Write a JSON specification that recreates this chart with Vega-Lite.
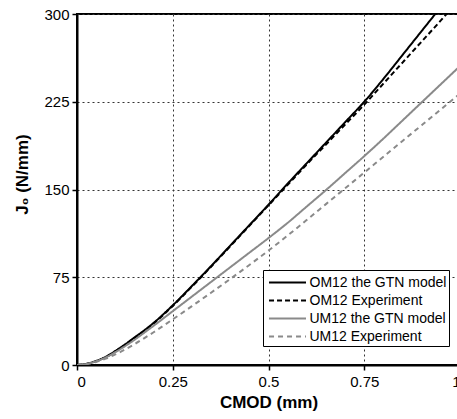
{
  "$schema": "https://vega.github.io/schema/vega-lite/v6.json",
  "width": 383,
  "height": 351,
  "autosize": {"type": "none"},
  "padding": {"left": 77, "top": 14, "right": 0, "bottom": 54},
  "background": "white",
  "config": {
    "font": "Liberation Sans",
    "view": {"stroke": "black", "strokeWidth": 2},
    "axis": {
      "domainColor": "black", "domainWidth": 2,
      "tickColor": "black", "tickWidth": 1.5, "tickSize": 5,
      "labelColor": "black", "labelFont": "Liberation Sans", "labelFontSize": 15,
      "titleColor": "black", "titleFont": "Liberation Sans", "titleFontSize": 17, "titleFontWeight": "bold",
      "gridColor": "#333", "gridDash": [2, 3], "gridWidth": 1, "gridOpacity": 1
    },
    "legend": {
      "orient": "none", "legendX": 186, "legendY": 256,
      "strokeColor": "black", "fillColor": "white", "padding": 2,
      "symbolType": "M-0.7,0H3.3", "symbolSize": 342, "symbolStrokeWidth": 2,
      "labelFontSize": 14, "labelFont": "Liberation Sans", "labelColor": "black",
      "labelOffset": 23.5, "rowPadding": 0, "labelLimit": 300
    }
  },
  "data": {"values": [
    {"series":"OM12 the GTN model","cmod":0,"j":0},
    {"series":"OM12 the GTN model","cmod":0.025,"j":1},
    {"series":"OM12 the GTN model","cmod":0.05,"j":3.5},
    {"series":"OM12 the GTN model","cmod":0.075,"j":7},
    {"series":"OM12 the GTN model","cmod":0.1,"j":12},
    {"series":"OM12 the GTN model","cmod":0.125,"j":17.5},
    {"series":"OM12 the GTN model","cmod":0.15,"j":23.5},
    {"series":"OM12 the GTN model","cmod":0.175,"j":29.5},
    {"series":"OM12 the GTN model","cmod":0.2,"j":36},
    {"series":"OM12 the GTN model","cmod":0.25,"j":51},
    {"series":"OM12 the GTN model","cmod":0.3,"j":67.5},
    {"series":"OM12 the GTN model","cmod":0.35,"j":84.5},
    {"series":"OM12 the GTN model","cmod":0.4,"j":102},
    {"series":"OM12 the GTN model","cmod":0.45,"j":119.5},
    {"series":"OM12 the GTN model","cmod":0.5,"j":137},
    {"series":"OM12 the GTN model","cmod":0.55,"j":155},
    {"series":"OM12 the GTN model","cmod":0.6,"j":172.5},
    {"series":"OM12 the GTN model","cmod":0.65,"j":190},
    {"series":"OM12 the GTN model","cmod":0.7,"j":207.5},
    {"series":"OM12 the GTN model","cmod":0.75,"j":225},
    {"series":"OM12 the GTN model","cmod":0.8,"j":244.5},
    {"series":"OM12 the GTN model","cmod":0.85,"j":265},
    {"series":"OM12 the GTN model","cmod":0.9,"j":285.5},
    {"series":"OM12 the GTN model","cmod":0.95,"j":306},
    {"series":"OM12 Experiment","cmod":0,"j":0},
    {"series":"OM12 Experiment","cmod":0.025,"j":0.9},
    {"series":"OM12 Experiment","cmod":0.05,"j":3.3},
    {"series":"OM12 Experiment","cmod":0.075,"j":6.7},
    {"series":"OM12 Experiment","cmod":0.1,"j":11.5},
    {"series":"OM12 Experiment","cmod":0.125,"j":17},
    {"series":"OM12 Experiment","cmod":0.15,"j":23},
    {"series":"OM12 Experiment","cmod":0.175,"j":29},
    {"series":"OM12 Experiment","cmod":0.2,"j":35.5},
    {"series":"OM12 Experiment","cmod":0.25,"j":50.5},
    {"series":"OM12 Experiment","cmod":0.3,"j":67},
    {"series":"OM12 Experiment","cmod":0.35,"j":84},
    {"series":"OM12 Experiment","cmod":0.4,"j":101.5},
    {"series":"OM12 Experiment","cmod":0.45,"j":119},
    {"series":"OM12 Experiment","cmod":0.5,"j":136.5},
    {"series":"OM12 Experiment","cmod":0.55,"j":154},
    {"series":"OM12 Experiment","cmod":0.6,"j":171.5},
    {"series":"OM12 Experiment","cmod":0.65,"j":188.5},
    {"series":"OM12 Experiment","cmod":0.7,"j":205.5},
    {"series":"OM12 Experiment","cmod":0.75,"j":222.5},
    {"series":"OM12 Experiment","cmod":0.8,"j":240.5},
    {"series":"OM12 Experiment","cmod":0.85,"j":258.5},
    {"series":"OM12 Experiment","cmod":0.9,"j":276.5},
    {"series":"OM12 Experiment","cmod":0.95,"j":294.5},
    {"series":"OM12 Experiment","cmod":1.0,"j":313},
    {"series":"UM12 the GTN model","cmod":0,"j":0},
    {"series":"UM12 the GTN model","cmod":0.025,"j":0.9},
    {"series":"UM12 the GTN model","cmod":0.05,"j":3.2},
    {"series":"UM12 the GTN model","cmod":0.075,"j":6.5},
    {"series":"UM12 the GTN model","cmod":0.1,"j":11},
    {"series":"UM12 the GTN model","cmod":0.125,"j":16},
    {"series":"UM12 the GTN model","cmod":0.15,"j":21.5},
    {"series":"UM12 the GTN model","cmod":0.175,"j":27.5},
    {"series":"UM12 the GTN model","cmod":0.2,"j":33.5},
    {"series":"UM12 the GTN model","cmod":0.25,"j":46},
    {"series":"UM12 the GTN model","cmod":0.3,"j":58.5},
    {"series":"UM12 the GTN model","cmod":0.35,"j":71},
    {"series":"UM12 the GTN model","cmod":0.4,"j":83.5},
    {"series":"UM12 the GTN model","cmod":0.45,"j":96},
    {"series":"UM12 the GTN model","cmod":0.5,"j":108.5},
    {"series":"UM12 the GTN model","cmod":0.55,"j":121.5},
    {"series":"UM12 the GTN model","cmod":0.6,"j":135.5},
    {"series":"UM12 the GTN model","cmod":0.65,"j":149.5},
    {"series":"UM12 the GTN model","cmod":0.7,"j":164},
    {"series":"UM12 the GTN model","cmod":0.75,"j":178.5},
    {"series":"UM12 the GTN model","cmod":0.8,"j":193.5},
    {"series":"UM12 the GTN model","cmod":0.85,"j":209},
    {"series":"UM12 the GTN model","cmod":0.9,"j":224.5},
    {"series":"UM12 the GTN model","cmod":0.95,"j":240},
    {"series":"UM12 the GTN model","cmod":1.0,"j":255.5},
    {"series":"UM12 Experiment","cmod":0,"j":0},
    {"series":"UM12 Experiment","cmod":0.025,"j":0.7},
    {"series":"UM12 Experiment","cmod":0.05,"j":2.6},
    {"series":"UM12 Experiment","cmod":0.075,"j":5.4},
    {"series":"UM12 Experiment","cmod":0.1,"j":9},
    {"series":"UM12 Experiment","cmod":0.125,"j":13.2},
    {"series":"UM12 Experiment","cmod":0.15,"j":17.8},
    {"series":"UM12 Experiment","cmod":0.175,"j":22.8},
    {"series":"UM12 Experiment","cmod":0.2,"j":28},
    {"series":"UM12 Experiment","cmod":0.25,"j":39},
    {"series":"UM12 Experiment","cmod":0.3,"j":50.3},
    {"series":"UM12 Experiment","cmod":0.35,"j":61.8},
    {"series":"UM12 Experiment","cmod":0.4,"j":73.5},
    {"series":"UM12 Experiment","cmod":0.45,"j":85.5},
    {"series":"UM12 Experiment","cmod":0.5,"j":97.8},
    {"series":"UM12 Experiment","cmod":0.55,"j":110.7},
    {"series":"UM12 Experiment","cmod":0.6,"j":124},
    {"series":"UM12 Experiment","cmod":0.65,"j":137.5},
    {"series":"UM12 Experiment","cmod":0.7,"j":151},
    {"series":"UM12 Experiment","cmod":0.75,"j":164.5},
    {"series":"UM12 Experiment","cmod":0.8,"j":178},
    {"series":"UM12 Experiment","cmod":0.85,"j":191.5},
    {"series":"UM12 Experiment","cmod":0.9,"j":205},
    {"series":"UM12 Experiment","cmod":0.95,"j":218.5},
    {"series":"UM12 Experiment","cmod":1.0,"j":232}
  ]},
  "mark": {"type": "line", "clip": true, "strokeWidth": 2, "interpolate": "monotone"},
  "encoding": {
    "x": {
      "field": "cmod", "type": "quantitative",
      "scale": {"domain": [0, 1], "nice": false},
      "axis": {"values": [0, 0.25, 0.5, 0.75, 1], "labelExpr": "'' + datum.value", "title": "CMOD (mm)", "labelPadding": 4, "titlePadding": 5, "grid": true}
    },
    "y": {
      "field": "j", "type": "quantitative",
      "scale": {"domain": [0, 300], "nice": false},
      "axis": {"values": [0, 75, 150, 225, 300], "title": "J₀ (N/mm)", "labelPadding": 3, "titleX": -55, "titleY": 160, "titleAlign": "center", "titleBaseline": "middle", "grid": true}
    },
    "color": {
      "field": "series", "type": "nominal",
      "scale": {"domain": ["OM12 the GTN model", "OM12 Experiment", "UM12 the GTN model", "UM12 Experiment"], "range": ["#000000", "#000000", "#8a8a8a", "#8a8a8a"]},
      "legend": {"title": null}
    },
    "strokeDash": {
      "field": "series", "type": "nominal",
      "scale": {"domain": ["OM12 the GTN model", "OM12 Experiment", "UM12 the GTN model", "UM12 Experiment"], "range": [[1, 0], [5, 3], [1, 0], [5, 4]]},
      "legend": {"title": null}
    }
  }
}
